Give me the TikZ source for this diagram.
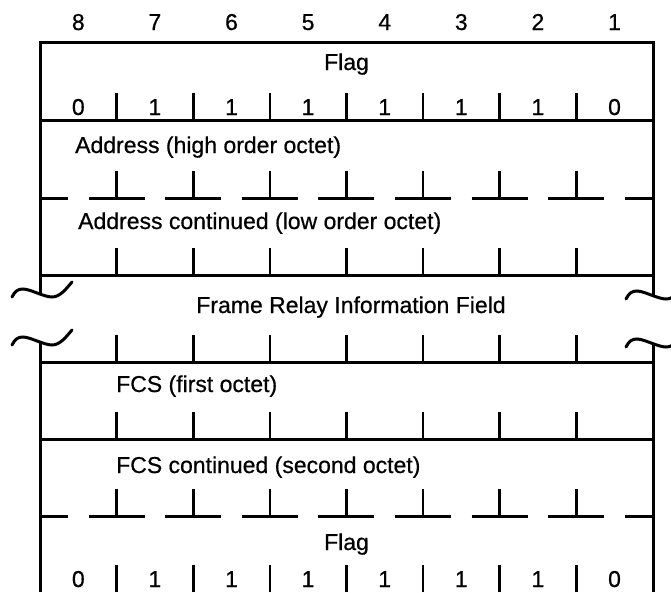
\documentclass[tikz,border=0pt]{standalone}
\usepackage{fontspec}
\setmainfont{Liberation Sans}
\newfontfamily\framefont{Liberation Sans}[FakeBold=0.6]
\usetikzlibrary{calc}

\tikzset{
    breakwave/.pic={
        \draw[line width=3pt, line cap=round] (0,0) .. controls (3,-6) and (6,-8) .. (11,-8)
            .. controls (18,-8) and (32,0) .. (40,0) .. controls (48,0) and (54,-8) .. (60,-15);
    }
}

\begin{document}
\begin{tikzpicture}[
        x=1pt, y=-1pt,
        font=\framefont\fontsize{23}{27}\selectfont,
        frame/.style={line width=3pt},
        tick/.style={line width=2.6pt},
        label/.style={anchor=base, inner sep=0pt},
        field/.style={anchor=base west, inner sep=0pt}
    ]
        \useasboundingbox (0,0) rectangle (671,592);

        % bit numbers
        \foreach \b [count=\i from 0] in {8,7,6,5,4,3,2,1}
            \node[label] (bit\b) at ({78.3+76.6*\i},30) {\b};

        % outline
        \draw[frame] (40,294) -- (40,42) -- (653,42) -- (653,296);
        \draw[frame] (40,342) -- (40,592);
        \draw[frame] (653,344) -- (653,592);
        \foreach \y in {120,275,362,439}
            \draw[frame] (40,\y) -- (653,\y);
        \foreach \y in {198,516}
            \foreach \i in {0,...,8}
                \draw[frame] ({max(40,12+76.6*\i)},\y) -- ({min(653,68+76.6*\i)},\y);

        % octet ticks
        \foreach \y in {120,198,275,362,439,516,592}
            \foreach \i in {1,...,7}
                \draw[tick] ({40+76.6*\i},\y) -- ++(0,-27);

        % breaks
        \pic at (12,297) {breakwave};
        \pic at (12,345) {breakwave};
        \pic at (626,299) {breakwave};
        \pic at (626,347) {breakwave};

        % fields
        \node[label] (flagtop) at (346.5,70) {Flag};
        \foreach \v [count=\i from 0] in {0,1,1,1,1,1,1,0}
            \node[label] (flagtop\i) at ({78.3+76.6*\i},115) {\v};
        \node[field] (addrhigh) at (75,153) {Address (high order octet)};
        \node[field] (addrlow) at (78,229) {Address continued (low order octet)};
        \node[label] (info) at (351,313) {Frame Relay Information Field};
        \node[field] (fcsfirst) at (116,392) {FCS (first octet)};
        \node[field] (fcssecond) at (116,473) {FCS continued (second octet)};
        \node[label] (flagbot) at (346.5,550) {Flag};
        \foreach \v [count=\i from 0] in {0,1,1,1,1,1,1,0}
            \node[label] (flagbot\i) at ({78.3+76.6*\i},587) {\v};
    \end{tikzpicture}
\end{document}
